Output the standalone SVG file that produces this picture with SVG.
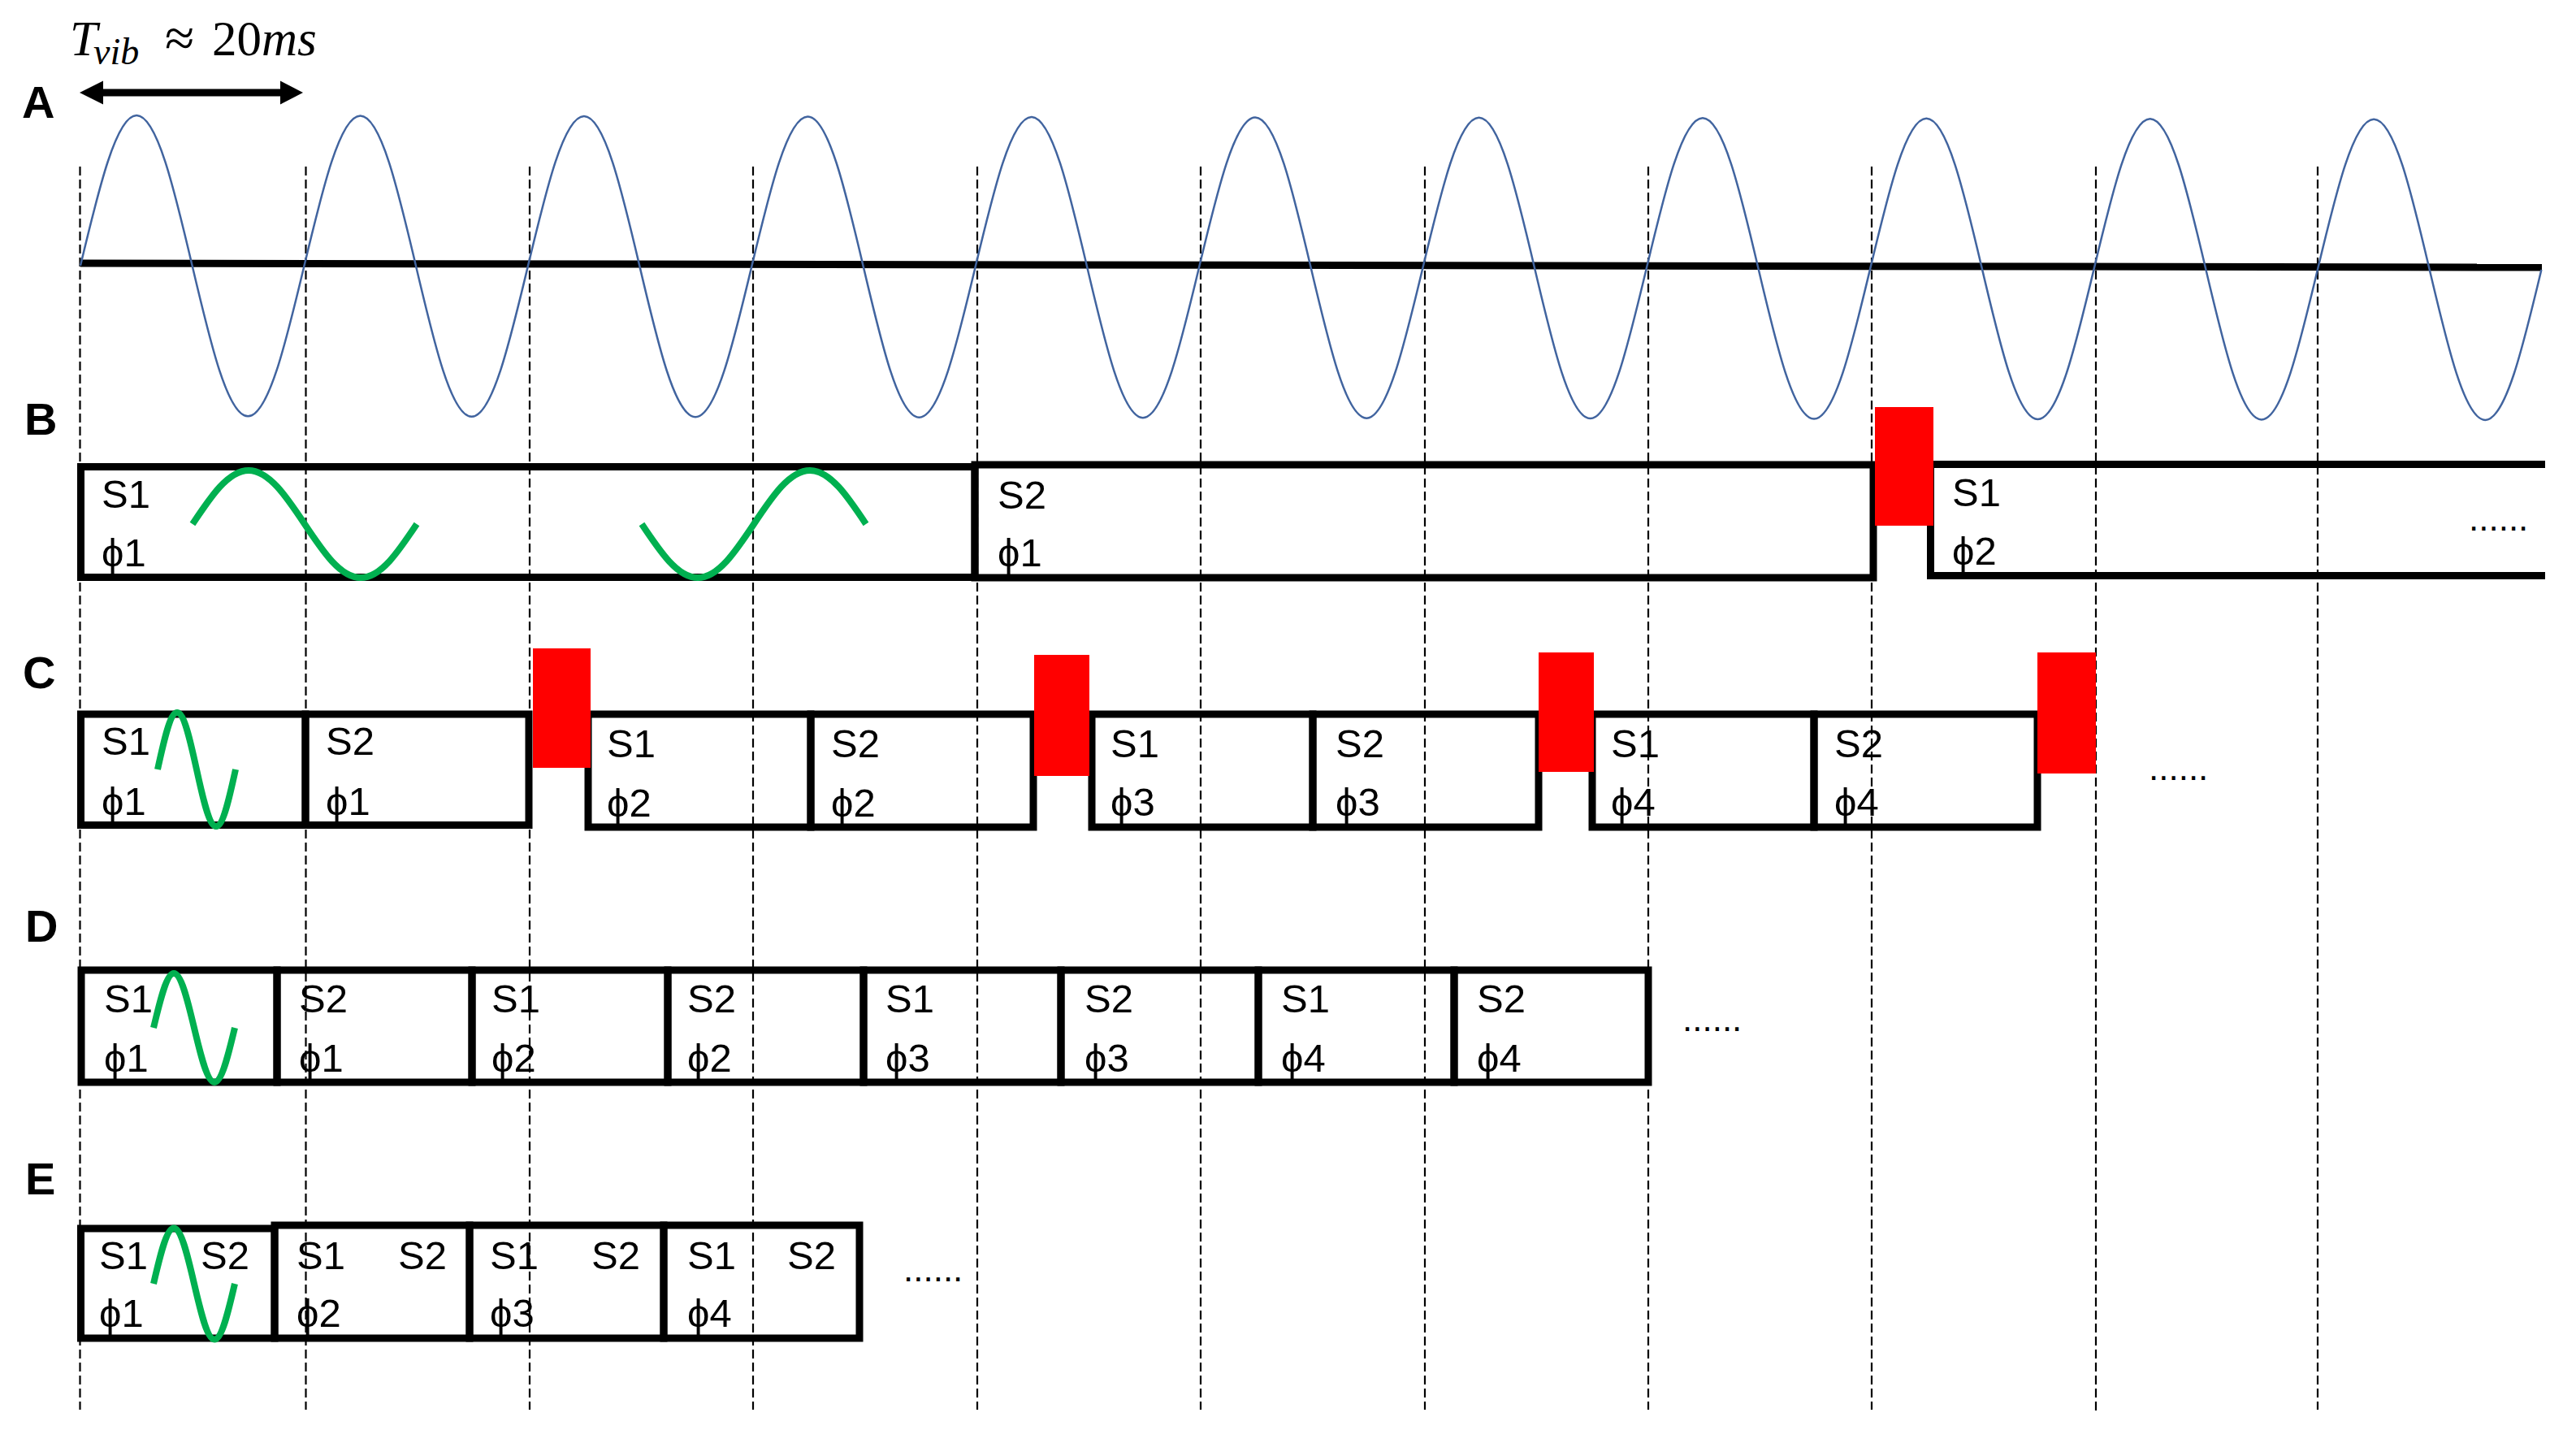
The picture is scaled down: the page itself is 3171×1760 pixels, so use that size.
<svg xmlns="http://www.w3.org/2000/svg" width="3171" height="1760" viewBox="0 0 3171 1760">
<style>
.box{fill:none;stroke:#000;stroke-width:9}
.red{fill:#ff0000}
.grn{fill:none;stroke:#00b050;stroke-width:8}
.t{font-family:"Liberation Sans Narrow","Liberation Sans",Arial,sans-serif;font-size:49px;fill:#000}
.lbl{font-family:"Liberation Sans",Arial,sans-serif;font-weight:bold;font-size:56px;fill:#000}
.dots{font-family:"Liberation Sans",Arial,sans-serif;font-size:44px;fill:#000}
.dash{stroke:#000;stroke-width:2.2;stroke-dasharray:11 5}
.ttl{font-family:"Liberation Serif","Times New Roman",serif;font-size:61px;fill:#000}
</style>
<rect width="3171" height="1760" fill="#fff"/>
<g id="guides">
<line class="dash" x1="98.5" y1="205" x2="98.5" y2="1735"/>
<line class="dash" x1="376.5" y1="205" x2="376.5" y2="1735"/>
<line class="dash" x1="652" y1="205" x2="652" y2="1735"/>
<line class="dash" x1="927" y1="205" x2="927" y2="1735"/>
<line class="dash" x1="1203" y1="205" x2="1203" y2="1735"/>
<line class="dash" x1="1478" y1="205" x2="1478" y2="1735"/>
<line class="dash" x1="1754" y1="205" x2="1754" y2="1735"/>
<line class="dash" x1="2029" y1="205" x2="2029" y2="1735"/>
<line class="dash" x1="2304" y1="205" x2="2304" y2="1735"/>
<line class="dash" x1="2580" y1="205" x2="2580" y2="1738"/>
<line class="dash" x1="2853" y1="205" x2="2853" y2="1735"/>
</g>
<g id="title">
<text class="ttl" y="68"><tspan x="86" font-style="italic">T</tspan><tspan x="115" y="79" font-style="italic" font-size="46">vib</tspan><tspan x="203" y="69" font-size="66">≈</tspan><tspan x="261" y="68">20</tspan><tspan x="322" font-style="italic">ms</tspan></text>
</g>
<g id="connectors">
<line x1="124" y1="114" x2="347" y2="114" stroke="#000" stroke-width="9"/>
<polygon points="98,114 127,99.5 127,128.5" fill="#000"/>
<polygon points="373,114 345,99.5 345,128.5" fill="#000"/>
</g>
<g id="labels">
<text class="lbl" x="27" y="145">A</text>
<text class="lbl" x="30" y="535">B</text>
<text class="lbl" x="28" y="847">C</text>
<text class="lbl" x="31" y="1159">D</text>
<text class="lbl" x="31" y="1470">E</text>
</g>
<g id="rowA" transform="rotate(0.095 99 324)">
<line x1="99" y1="324" x2="3129" y2="324" stroke="#000" stroke-width="9"/>
<path fill="none" stroke="#41649f" stroke-width="2.5" d="M99,327 c22.45,-94.78 43.93,-185 68.85,-185 c24.92,0 46.4,90.22 68.85,185 c22.45,94.78 43.93,185 68.85,185 c24.92,0 46.4,-90.22 68.85,-185 c22.45,-94.78 43.93,-185 68.85,-185 c24.92,0 46.4,90.22 68.85,185 c22.45,94.78 43.93,185 68.85,185 c24.92,0 46.4,-90.22 68.85,-185 c22.45,-94.78 43.93,-185 68.85,-185 c24.92,0 46.4,90.22 68.85,185 c22.45,94.78 43.93,185 68.85,185 c24.92,0 46.4,-90.22 68.85,-185 c22.45,-94.78 43.93,-185 68.85,-185 c24.92,0 46.4,90.22 68.85,185 c22.45,94.78 43.93,185 68.85,185 c24.92,0 46.4,-90.22 68.85,-185 c22.45,-94.78 43.93,-185 68.85,-185 c24.92,0 46.4,90.22 68.85,185 c22.45,94.78 43.93,185 68.85,185 c24.92,0 46.4,-90.22 68.85,-185 c22.45,-94.78 43.93,-185 68.85,-185 c24.92,0 46.4,90.22 68.85,185 c22.45,94.78 43.93,185 68.85,185 c24.92,0 46.4,-90.22 68.85,-185 c22.45,-94.78 43.93,-185 68.85,-185 c24.92,0 46.4,90.22 68.85,185 c22.45,94.78 43.93,185 68.85,185 c24.92,0 46.4,-90.22 68.85,-185 c22.45,-94.78 43.93,-185 68.85,-185 c24.92,0 46.4,90.22 68.85,185 c22.45,94.78 43.93,185 68.85,185 c24.92,0 46.4,-90.22 68.85,-185 c22.45,-94.78 43.93,-185 68.85,-185 c24.92,0 46.4,90.22 68.85,185 c22.45,94.78 43.93,185 68.85,185 c24.92,0 46.4,-90.22 68.85,-185 c22.45,-94.78 43.93,-185 68.85,-185 c24.92,0 46.4,90.22 68.85,185 c22.45,94.78 43.93,185 68.85,185 c24.92,0 46.4,-90.22 68.85,-185 c22.45,-94.78 43.93,-185 68.85,-185 c24.92,0 46.4,90.22 68.85,185 c22.45,94.78 43.93,185 68.85,185 c24.92,0 46.4,-90.22 68.85,-185"/>
</g>
<g id="rowB">
<g id="B1"><rect class="box" x="99.5" y="574.5" width="1100.5" height="136"/><text class="t" x="125" y="625">S1</text><text class="t" x="125" y="697">ϕ1</text></g>
<g id="B2"><rect class="box" x="1200" y="572" width="1106" height="139"/><text class="t" x="1228" y="626">S2</text><text class="t" x="1228" y="697">ϕ1</text></g>
<g id="B3"><path class="box" d="M3133,571.5 H2376.5 V708.5 H3133"/><text class="t" x="2403" y="623">S1</text><text class="t" x="2403" y="695">ϕ2</text></g>
<rect id="B-gap" class="red" x="2308" y="501" width="72" height="146"/>
<text id="B-more" class="dots" x="3039" y="653">......</text>
<path class="grn" d="M237,645 c22.5,-33.81 44.03,-66 69,-66 c24.97,0 46.5,32.19 69,66 c22.5,33.81 44.03,66 69,66 c24.97,0 46.5,-32.19 69,-66"/>
<path class="grn" d="M790,645 c22.5,33.81 44.03,66 69,66 c24.97,0 46.5,-32.19 69,-66 c22.5,-33.81 44.03,-66 69,-66 c24.97,0 46.5,32.19 69,66"/>
</g>
<g id="rowC">
<g id="C1"><rect class="box" x="99.5" y="879" width="276.5" height="136.5"/><rect class="box" x="376" y="879" width="275" height="136.5"/>
<text class="t" x="125" y="929">S1</text><text class="t" x="125" y="1003">ϕ1</text><text class="t" x="401" y="929">S2</text><text class="t" x="401" y="1003">ϕ1</text></g>
<g id="C2"><rect class="box" x="724" y="879" width="274" height="139"/><rect class="box" x="998" y="879" width="274" height="139"/>
<text class="t" x="747" y="932">S1</text><text class="t" x="747" y="1005">ϕ2</text><text class="t" x="1023" y="932">S2</text><text class="t" x="1023" y="1005">ϕ2</text></g>
<g id="C3"><rect class="box" x="1344" y="879" width="272" height="139"/><rect class="box" x="1616" y="879" width="278" height="139"/>
<text class="t" x="1367" y="932">S1</text><text class="t" x="1367" y="1004">ϕ3</text><text class="t" x="1644" y="932">S2</text><text class="t" x="1644" y="1004">ϕ3</text></g>
<g id="C4"><rect class="box" x="1960" y="879" width="273" height="139"/><rect class="box" x="2233" y="879" width="275" height="139"/>
<text class="t" x="1983" y="932">S1</text><text class="t" x="1983" y="1004">ϕ4</text><text class="t" x="2258" y="932">S2</text><text class="t" x="2258" y="1004">ϕ4</text></g>
<rect class="red" x="656" y="798" width="71" height="147"/>
<rect class="red" x="1273" y="806" width="68" height="149"/>
<rect class="red" x="1894" y="803" width="68" height="147"/>
<rect class="red" x="2508" y="803" width="72" height="149"/>
<text id="C-more" class="dots" x="2645" y="960">......</text>
<path class="grn" d="M194,947 c7.83,-35.9 15.31,-70 24,-70 c8.69,0 16.17,34.1 24,70 c7.83,35.9 15.31,70 24,70 c8.69,0 16.17,-34.1 24,-70"/>
</g>
<g id="rowD">
<rect class="box" x="100" y="1194" width="241" height="138"/>
<rect class="box" x="341" y="1194" width="240" height="138"/>
<rect class="box" x="581" y="1194" width="241" height="138"/>
<rect class="box" x="822" y="1194" width="241" height="138"/>
<rect class="box" x="1063" y="1194" width="243" height="138"/>
<rect class="box" x="1306" y="1194" width="243" height="138"/>
<rect class="box" x="1549" y="1194" width="241" height="138"/>
<rect class="box" x="1790" y="1194" width="239" height="138"/>
<text class="t" x="128" y="1246">S1</text><text class="t" x="128" y="1319">ϕ1</text>
<text class="t" x="368" y="1246">S2</text><text class="t" x="368" y="1319">ϕ1</text>
<text class="t" x="605" y="1246">S1</text><text class="t" x="605" y="1319">ϕ2</text>
<text class="t" x="846" y="1246">S2</text><text class="t" x="846" y="1319">ϕ2</text>
<text class="t" x="1090" y="1246">S1</text><text class="t" x="1090" y="1319">ϕ3</text>
<text class="t" x="1335" y="1246">S2</text><text class="t" x="1335" y="1319">ϕ3</text>
<text class="t" x="1577" y="1246">S1</text><text class="t" x="1577" y="1319">ϕ4</text>
<text class="t" x="1818" y="1246">S2</text><text class="t" x="1818" y="1319">ϕ4</text>
<text id="D-more" class="dots" x="2071" y="1269">......</text>
<path class="grn" d="M189,1265 c8.15,-34.32 15.95,-67 25,-67 c9.05,0 16.85,32.68 25,67 c8.15,34.32 15.95,67 25,67 c9.05,0 16.85,-32.68 25,-67"/>
</g>
<g id="rowE">
<rect class="box" x="99.5" y="1512" width="238.5" height="135"/>
<rect class="box" x="338" y="1508" width="240" height="139"/>
<rect class="box" x="578" y="1508" width="239" height="139"/>
<rect class="box" x="817" y="1508" width="241" height="139"/>
<text class="t" x="122" y="1562">S1</text><text class="t" x="247" y="1562">S2</text><text class="t" x="122" y="1633">ϕ1</text>
<text class="t" x="365" y="1562">S1</text><text class="t" x="490" y="1562">S2</text><text class="t" x="365" y="1633">ϕ2</text>
<text class="t" x="603" y="1562">S1</text><text class="t" x="728" y="1562">S2</text><text class="t" x="603" y="1633">ϕ3</text>
<text class="t" x="846" y="1562">S1</text><text class="t" x="969" y="1562">S2</text><text class="t" x="846" y="1633">ϕ4</text>
<text id="E-more" class="dots" x="1112" y="1577">......</text>
<path class="grn" d="M189,1580 c8.15,-35.09 15.950,-68.5 25,-68.5 c9.05,0 16.85,33.41 25,68.5 c8.15,35.09 15.95,68.5 25,68.5 c9.05,0 16.85,-33.41 25,-68.5"/>
</g>
</svg>
